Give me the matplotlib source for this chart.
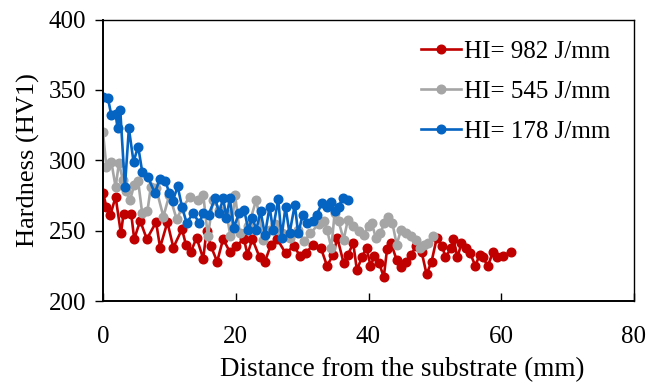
import matplotlib
matplotlib.use("Agg")
import matplotlib.pyplot as plt

plt.rcParams['font.family'] = ['Liberation Serif', 'DejaVu Serif']

# HI = 982 J/mm
x_982 = [0, 0.5, 1.1, 1.9, 2.7, 3.1, 4.25, 4.7, 5.6, 6.6, 8, 8.6, 9.7, 10.6, 11.9, 12.5,
         13.25, 14.1, 15.1, 15.6, 16.25, 17.2, 18.1, 19.1, 20, 21.25, 21.75, 22.5, 23.6,
         24.4, 25.3, 26.25, 27.5, 28.75, 29.7, 30.6, 31.6, 32.8, 33.75, 34.7, 35.3, 36.25,
         36.9, 37.7, 38.25, 39, 39.7, 40.3, 40.9, 41.6, 42.3, 42.8, 43.4, 44.25, 44.9, 45.6,
         46.4, 47.2, 48, 48.75, 49.5, 50.3, 51.1, 51.6, 52.5, 52.8, 53.4, 54, 54.7, 55.3,
         56.1, 56.75, 57.2, 58, 58.75, 59.4, 60.3, 61.4]
y_982 = [277, 267, 261, 274, 248, 262, 262, 244, 257, 244, 256, 238, 256, 238, 251, 240,
         235, 245, 230, 250, 239, 228, 244, 235, 239, 244, 233, 244, 231,
         228, 240, 244, 234, 239, 232, 234, 240, 238, 225, 233, 245, 227,
         233, 241, 222, 231, 238, 225, 232, 227, 217, 237, 241, 229, 224, 228,
         233, 239, 235, 219, 228, 245, 239, 231, 238, 244, 231, 241, 238, 234,
         225, 233, 231, 225, 235, 231, 232, 235]

# HI = 545 J/mm
x_545 = [0, 0.5, 1.25, 1.9, 2.4, 3, 3.4, 4.1, 4.7, 5.3, 5.9, 6.7, 7.2, 8, 9.1, 10, 11.1,
         11.9, 13.1, 14.25, 15.1, 15.8, 16.6, 17.5, 18.6, 19.2, 19.9, 20.6, 21.9, 23.1,
         24.1, 25.1, 25.9, 26.9, 28.1, 29.4, 30.3, 31.25, 32.5, 33.25, 33.75, 34.4, 34.9,
         35.5, 36.25, 36.9, 37.6, 38.6, 39.25, 40, 40.5, 41.1, 41.75, 42.4, 43, 43.6,
         44.25, 44.9, 45.6, 46.4, 47.2, 47.8, 48.4, 49, 49.7]
y_545 = [320, 295.5, 299, 281, 298, 286, 278, 272, 282.5, 285, 262.5, 264, 281, 280, 260,
         275.5, 258, 266, 274, 272, 275.5, 246, 272, 265, 262.5, 246, 275.5, 248, 253, 272,
         243.6, 250.7, 255, 248, 245, 250.7, 242.5, 248, 255, 256.6, 250.7, 237.7, 262.5,
         256.6, 243.6, 257.8, 253, 249.5, 247, 253, 255.4, 244.8, 248, 255.4, 260, 255.4,
         240, 250.7, 248, 246, 243.6, 237.7, 240, 241, 246]

# HI = 178 J/mm
x_178 = [0, 0.75, 1.25, 1.9, 2.2, 2.6, 3.3, 3.9, 4.6, 5.3, 5.9, 6.75, 7.8, 8.6, 9.4, 10,
         10.5, 11.25, 11.9, 12.6, 13.6, 14.5, 15.1, 15.9, 16.9, 17.5, 18.1, 18.6, 19.1,
         19.7, 20.5, 21.25, 21.9, 22.5, 23.1, 23.75, 24.4, 25.1, 25.6, 26.4, 26.9, 27.5,
         28.1, 28.9, 29.4, 30.1, 30.75, 31.6, 32.2, 33, 33.75, 34.4, 34.9, 35.5, 36.1, 36.9]
y_178 = [345, 344, 332, 333, 322.6, 335.6, 281, 322.6, 299, 309.7, 292, 288.4, 276.7, 287,
         285, 276.7, 270.8, 281.4, 267, 255.4, 262.5, 255.4, 262.5, 261.3, 273, 262.5, 273,
         259, 273, 252, 262.5, 265, 250.7, 259, 250.7, 263.7, 247, 267, 250.7, 272.4, 245,
         267, 248, 268.4, 248, 261.3, 255.4, 256.6, 261.3, 269.6, 267, 270, 263.7, 267, 273,
         272]

labels = ["HI= 982 J/mm", "HI= 545 J/mm", "HI= 178 J/mm"]
colors = ["#C00000", "#A5A5A5", "#0563C1"]
x_ticks = [0, 20, 40, 60, 80]
y_ticks = [200, 250, 300, 350, 400]

fig = plt.figure(figsize=(6.48, 3.88), dpi=100)
ax = fig.add_axes([103 / 648, 1 - 301 / 388, 531 / 648, 281.5 / 388])

for xs, ys, lab, c in [(x_982, y_982, labels[0], colors[0]),
                       (x_545, y_545, labels[1], colors[1]),
                       (x_178, y_178, labels[2], colors[2])]:
    ax.plot(xs, ys, '-o', color=c, lw=1.9, ms=6.2, label=lab)

ax.set_xlim(0, 80)
ax.set_ylim(200, 400)
ax.set_xticks(x_ticks)
ax.set_yticks(y_ticks)
ax.tick_params(axis='x', direction='in', length=6, width=1, labelsize=18, pad=18)
ax.tick_params(axis='y', direction='out', length=6, width=1, labelsize=18, pad=6)
for s in ax.spines.values():
    s.set_linewidth(1.0)
    s.set_color('black')
ax.spines['bottom'].set_linewidth(1.4)
ax.spines['left'].set_linewidth(1.4)

ax.set_xlabel("Distance from the substrate (mm)", fontsize=19.5)
ax.xaxis.set_label_coords((402 - 103) / 531, -(370 - 301) / 281.5)
ax.xaxis.label.set_va('center')
ax.set_ylabel("Hardness (HV1)", fontsize=19, labelpad=6)

leg = ax.legend(loc='upper right', frameon=False, fontsize=18, handlelength=1.6,
                handletextpad=0.12, labelspacing=0.70, borderaxespad=0.0,
                bbox_to_anchor=((620 - 103) / 531, 1 - 11 / 281.5))

fig.savefig("out.png", dpi=100)
